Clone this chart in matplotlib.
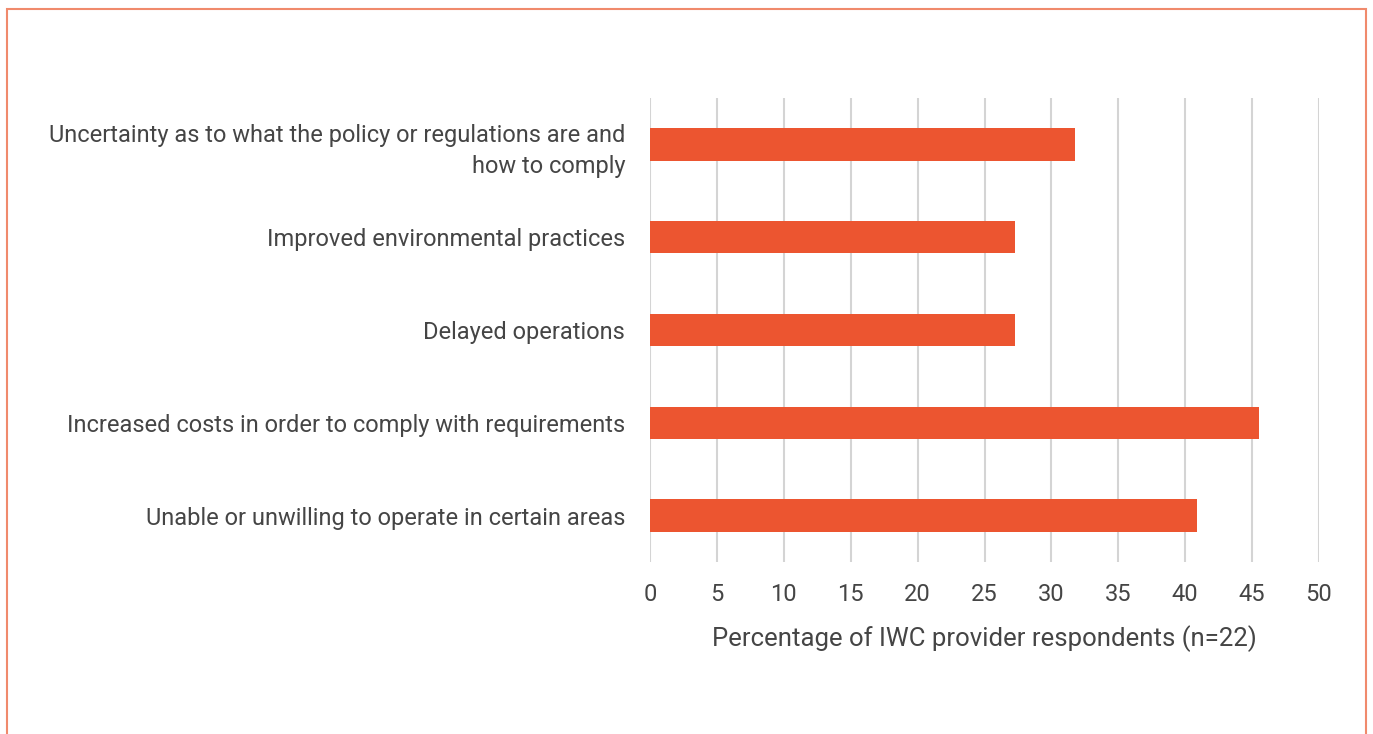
import matplotlib.pyplot as plt
import matplotlib.patches as mpatches

# dados
categories = [
    "Uncertainty as to what the policy or regulations are and\nhow to comply",
    "Improved environmental practices",
    "Delayed operations",
    "Increased costs in order to comply with requirements",
    "Unable or unwilling to operate in certain areas",
]
values = [31.8, 27.3, 27.3, 45.5, 40.9]
xticks = [0, 5, 10, 15, 20, 25, 30, 35, 40, 45, 50]

bar_color = "#EC5530"
text_color = "#454545"
plt.rcParams['font.family'] = ['Roboto', 'DejaVu Sans']

fig = plt.figure(figsize=(13.73, 7.34), dpi=100)
ax = fig.add_axes([650 / 1373, 1 - 562 / 734, 669 / 1373, 464 / 734])

ypos = list(range(len(categories)))
ax.barh(ypos, values, height=0.35, color=bar_color, zorder=3)
ax.set_ylim(len(categories) - 0.5, -0.5)
ax.set_xlim(0, 50)
ax.set_xticks(xticks)
ax.set_yticks(ypos)
ax.set_yticklabels(categories, fontsize=17, color=text_color, linespacing=1.45,
                   multialignment='right')
ax.tick_params(axis='x', labelsize=17, colors=text_color, length=0, pad=15)
ax.tick_params(axis='y', length=0, pad=18)
ax.xaxis.grid(True, color='#D4D4D4', linewidth=1.5, zorder=0)
for s in ax.spines.values():
    s.set_visible(False)
ax.set_xlabel("Percentage of IWC provider respondents (n=22)", fontsize=18.5,
              color=text_color, labelpad=14)

# moldura laranja
border = mpatches.Rectangle((7 / 1373, -0.05), (1366 - 7) / 1373, 1.05 - 9 / 734,
                            transform=fig.transFigure, fill=False,
                            edgecolor='#F08A6C', linewidth=1.5)
fig.patches.append(border)

fig.savefig("out.png", dpi=100)
